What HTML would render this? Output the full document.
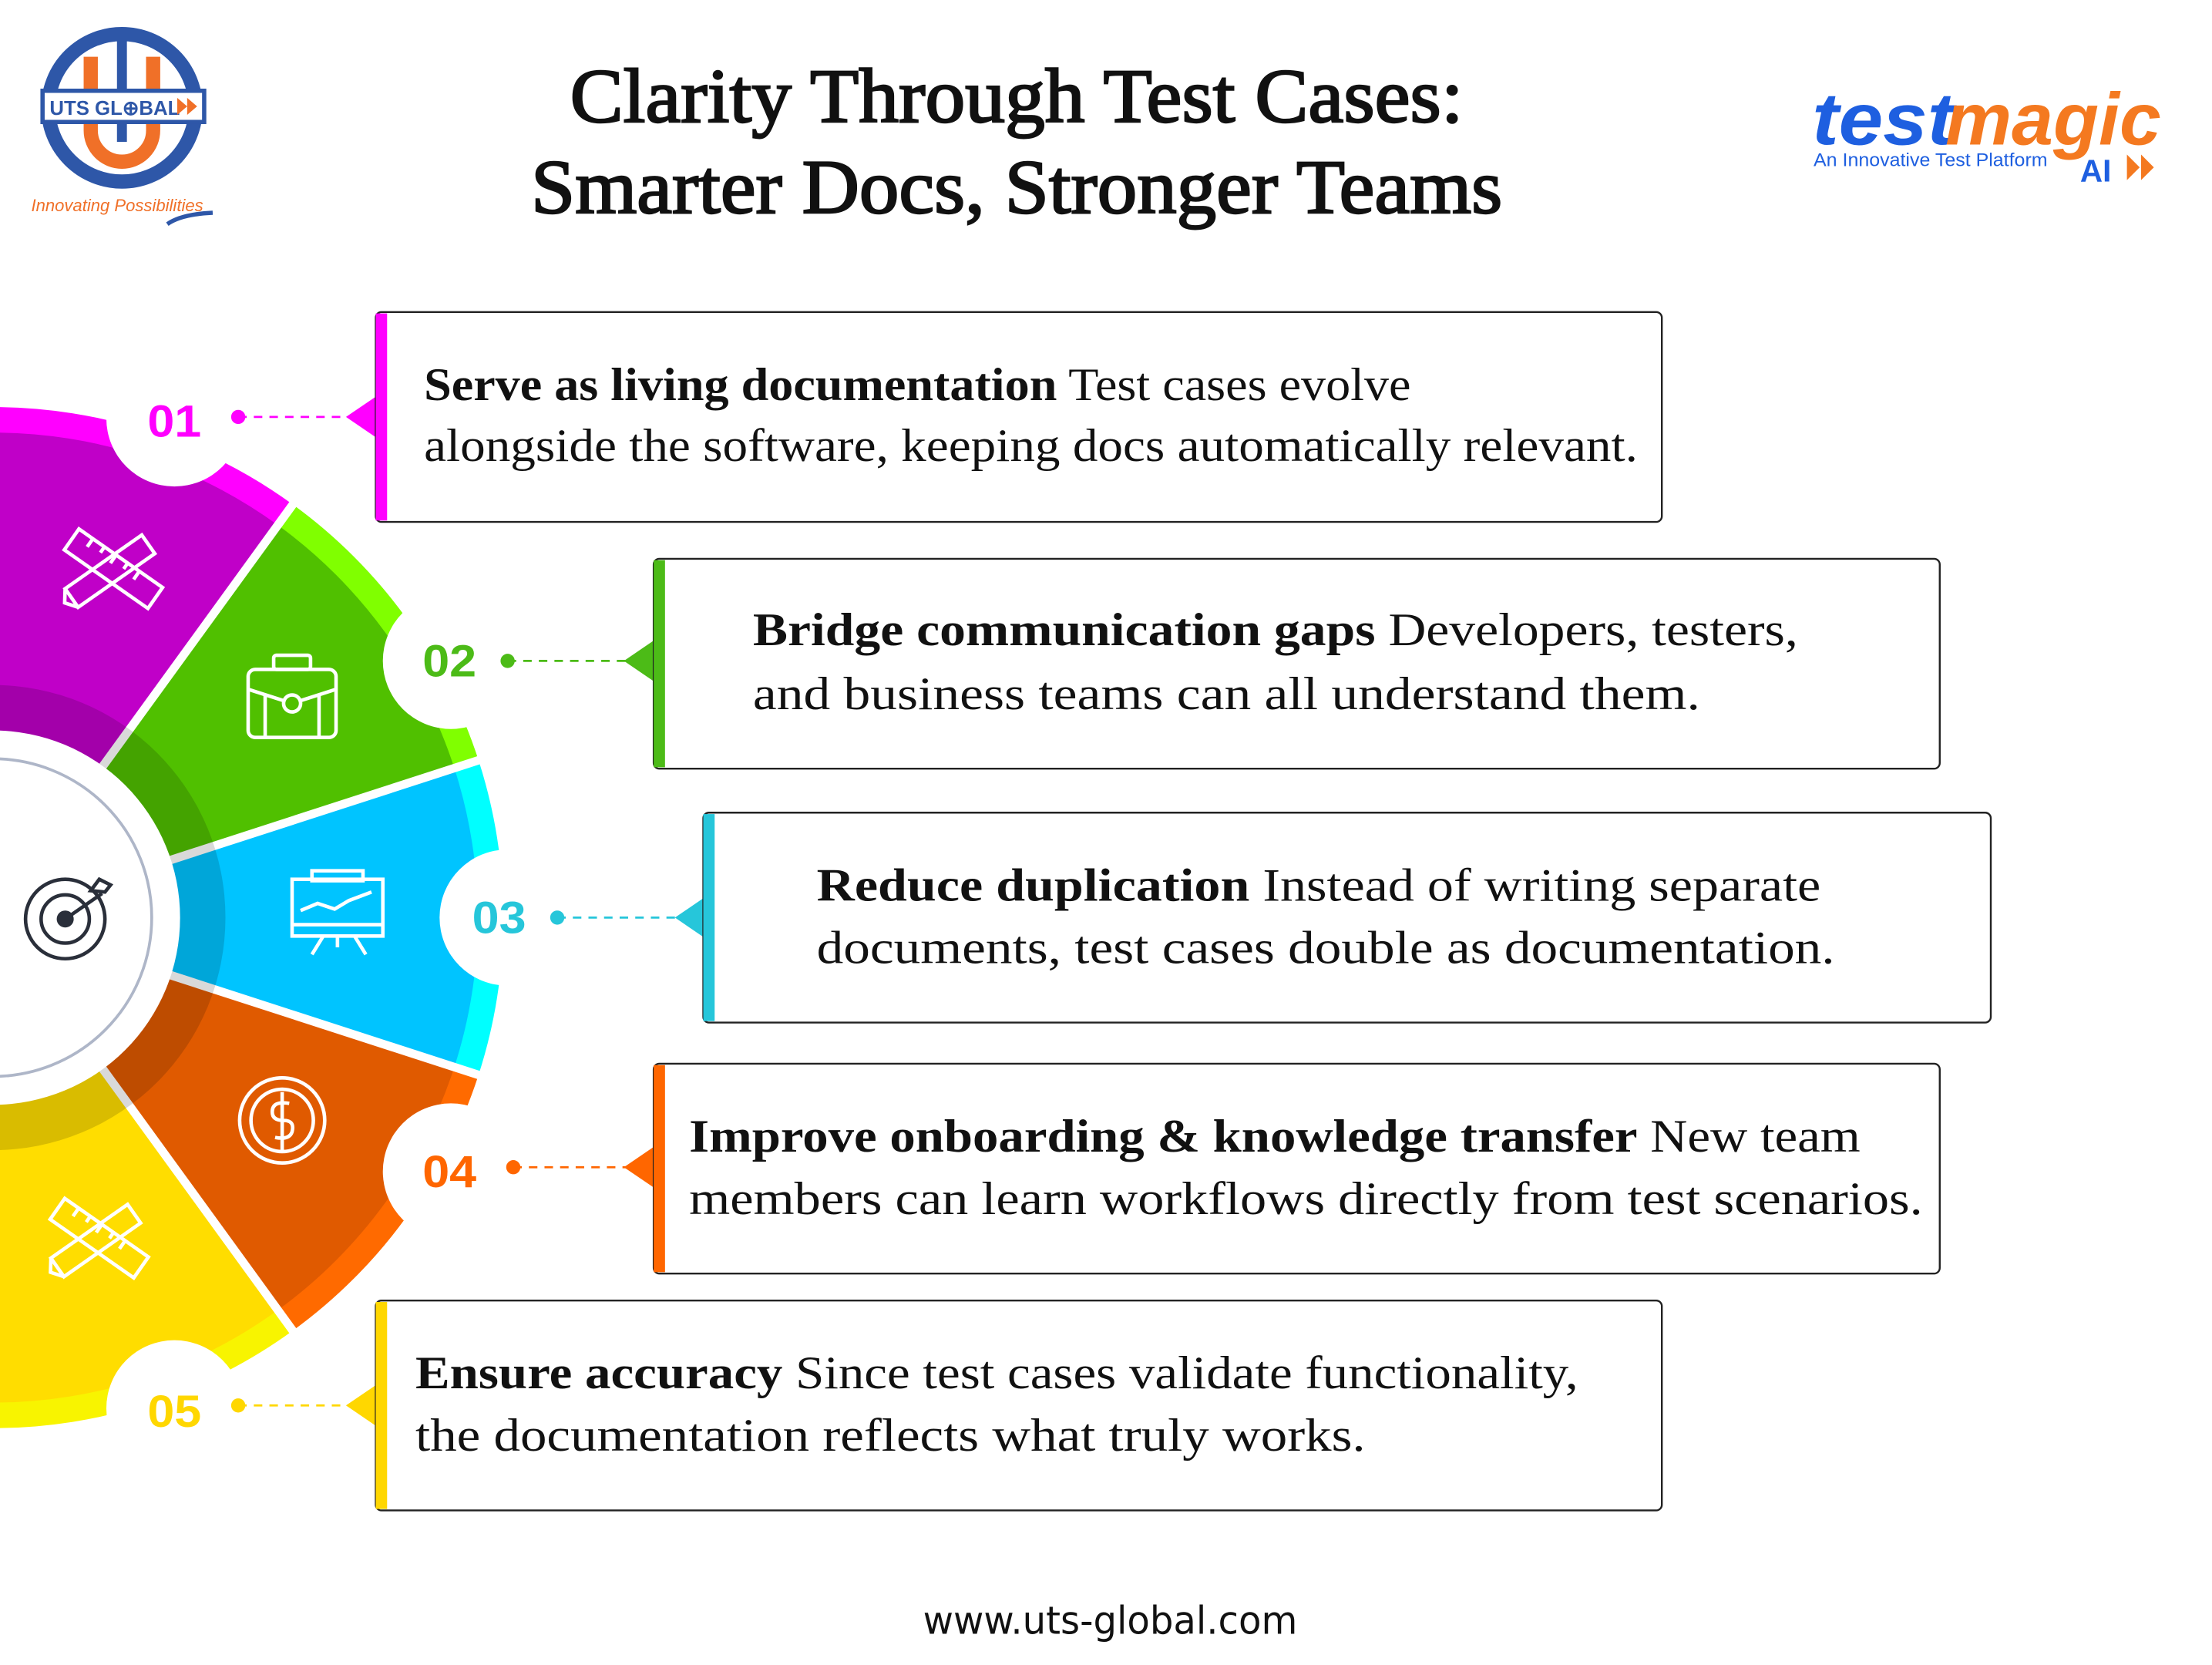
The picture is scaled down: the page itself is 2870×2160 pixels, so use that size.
<!DOCTYPE html>
<html><head><meta charset="utf-8"><style>
html,body{margin:0;padding:0;background:#fff;width:2870px;height:2160px;overflow:hidden}
svg{display:block}
</style></head><body>
<svg width="2870" height="2160" viewBox="0 0 1560 1174" preserveAspectRatio="none" xmlns="http://www.w3.org/2000/svg">
<rect width="1560" height="1174" fill="#fff"/>
<!-- Title -->
<g font-family="Liberation Serif, serif" fill="#111" text-anchor="middle" stroke="#111" stroke-width="1.3">
<text x="717" y="86" font-size="54" textLength="630" lengthAdjust="spacingAndGlyphs">Clarity Through Test Cases:</text>
<text x="717" y="150" font-size="54" textLength="685" lengthAdjust="spacingAndGlyphs">Smarter Docs, Stronger Teams</text>
</g>
<!-- UTS logo -->
<g>
<circle cx="86" cy="76" r="52" fill="none" stroke="#2E57A8" stroke-width="10"/>
<path d="M64 40 V92 A22 22 0 0 0 108 92 V40" fill="none" stroke="#F07028" stroke-width="10"/>
<path d="M86 28 V100" stroke="#2E57A8" stroke-width="7"/>
<rect x="30" y="64" width="114" height="22" fill="#fff" stroke="#2E57A8" stroke-width="3"/>
<text x="35" y="81" font-family="Liberation Sans, sans-serif" font-weight="bold" font-size="14" fill="#2E57A8">UTS GL⊕BAL</text>
<path d="M125 69 l7 6 -7 6z M132 69 l7 6 -7 6z" fill="#F07028"/>
<text x="22" y="149" font-family="Liberation Sans, sans-serif" font-style="italic" font-size="12" fill="#F07028">Innovating Possibilities</text>
<path d="M118 158 Q128 151 150 150" stroke="#2E57A8" stroke-width="3" fill="none"/>
</g>
<!-- testmagic logo -->
<g font-family="Liberation Sans, sans-serif" font-weight="bold" font-style="italic">
<text x="1278" y="102" font-size="52" fill="#1E5FE0" textLength="100" lengthAdjust="spacingAndGlyphs">test</text>
<text x="1372" y="102" font-size="52" fill="#F47920" textLength="152" lengthAdjust="spacingAndGlyphs">magic</text>
<text x="1279" y="117" font-size="13" font-weight="normal" font-style="normal" fill="#1E5FE0" textLength="165" lengthAdjust="spacingAndGlyphs">An Innovative Test Platform</text>
<text x="1467" y="128" font-size="22" font-style="normal" fill="#1E5FE0">AI</text>
<path d="M1500 109 l9 9 -9 9z M1510 109 l9 9 -9 9z" fill="#F47920"/>
</g>
<!-- Wheel -->
<g>
<path d="M-5 647 L-5 287 A360 360 0 0 1 206.6 355.8 Z" fill="#FF00FF"/>
<path d="M-5 647 L206.6 355.8 A360 360 0 0 1 337.4 535.8 Z" fill="#80FF00"/>
<path d="M-5 647 L337.4 535.8 A360 360 0 0 1 337.4 758.2 Z" fill="#00FFFF"/>
<path d="M-5 647 L337.4 758.2 A360 360 0 0 1 206.6 938.2 Z" fill="#FF6A00"/>
<path d="M-5 647 L206.6 938.2 A360 360 0 0 1 -5 1007 Z" fill="#F8F400"/>
<path d="M-5 647 L-5 305 A342 342 0 0 1 196 370.3 Z" fill="#C000C8"/>
<path d="M-5 647 L196 370.3 A342 342 0 0 1 320.3 541.3 Z" fill="#50C000"/>
<path d="M-5 647 L320.3 541.3 A342 342 0 0 1 320.3 752.7 Z" fill="#00C4FF"/>
<path d="M-5 647 L320.3 752.7 A342 342 0 0 1 196 923.7 Z" fill="#E05A00"/>
<path d="M-5 647 L196 923.7 A342 342 0 0 1 -5 989 Z" fill="#FFDD00"/>
<g stroke="#fff" stroke-width="6">
<line x1="-5" y1="647" x2="215" y2="344"/>
<line x1="-5" y1="647" x2="350" y2="532"/>
<line x1="-5" y1="647" x2="350" y2="762"/>
<line x1="-5" y1="647" x2="215" y2="950"/>
</g>
<circle cx="-5" cy="647" r="164" fill="#000" fill-opacity="0.15"/>
<circle cx="-5" cy="647" r="132" fill="#fff"/>
<circle cx="-5" cy="647" r="112" fill="none" stroke="#AEB6C8" stroke-width="2"/>
<!-- target icon -->
<g fill="none" stroke="#2A2F3A" stroke-width="2.5">
<circle cx="46" cy="648" r="28"/><circle cx="46" cy="648" r="17"/>
<line x1="46" y1="648" x2="72" y2="630"/>
<path d="M64 628 l6 -8 8 4 -4 5 z"/>
</g>
<circle cx="46" cy="648" r="6" fill="#2A2F3A"/>
<!-- number circles -->
<g fill="#fff">
<circle cx="123" cy="295" r="48"/><circle cx="318" cy="466" r="48"/><circle cx="358" cy="647" r="48"/><circle cx="318" cy="826" r="48"/><circle cx="123" cy="993" r="48"/>
</g>
<g font-family="Liberation Sans, sans-serif" font-weight="bold" font-size="32" text-anchor="middle">
<text x="123" y="308" fill="#FF00FF" textLength="38" lengthAdjust="spacingAndGlyphs">01</text>
<text x="317" y="477" fill="#4CBB17" textLength="38" lengthAdjust="spacingAndGlyphs">02</text>
<text x="352" y="658" fill="#26C6DA" textLength="38" lengthAdjust="spacingAndGlyphs">03</text>
<text x="317" y="837" fill="#FF6600" textLength="38" lengthAdjust="spacingAndGlyphs">04</text>
<text x="123" y="1006" fill="#FFD700" textLength="38" lengthAdjust="spacingAndGlyphs">05</text>
</g>
<!-- icons -->
<g fill="none" stroke="#fff" stroke-width="2.5">
<g transform="translate(80,401)">
<g transform="rotate(35)"><rect x="-36" y="-9" width="72" height="18"/><path d="M-24 -9 v7 M-14 -9 v5 M-4 -9 v7 M6 -9 v5 M16 -9 v7"/></g>
<g transform="rotate(-35)"><path d="M-36 -8 H30 V8 H-36 Z M-36 -8 l-6 8 6 8"/></g>
</g>
<g transform="translate(70,873)">
<g transform="rotate(35)"><rect x="-36" y="-9" width="72" height="18"/><path d="M-24 -9 v7 M-14 -9 v5 M-4 -9 v7 M6 -9 v5 M16 -9 v7"/></g>
<g transform="rotate(-35)"><path d="M-36 -8 H30 V8 H-36 Z M-36 -8 l-6 8 6 8"/></g>
</g>
<rect x="175" y="472" width="62" height="48" rx="5"/><rect x="193" y="462" width="26" height="10" rx="2"/>
<path d="M175 486 L200 494 M212 494 L237 486 M187 490 V520 M225 490 V520"/><circle cx="206" cy="496" r="6"/>
<rect x="206" y="620" width="64" height="40"/><rect x="220" y="614" width="36" height="7"/>
<path d="M212 642 l12 -5 12 4 10 -6 16 -6 M206 652 H270 M228 660 l-8 13 M250 660 l8 13 M238 660 v8"/>
<circle cx="199" cy="790" r="30"/><circle cx="199" cy="790" r="22"/>
<path d="M204 778 q-12 -2 -12 6 q0 6 8 6 q8 0 6 8 q-2 6 -12 4 M199 770 V812"/>
</g>
</g>
<!-- connectors -->
<g stroke-width="1.5" stroke-dasharray="6,5">
<line x1="168" y1="294" x2="246" y2="294" stroke="#FF00FF"/>
<line x1="358" y1="466" x2="442" y2="466" stroke="#4CBB17"/>
<line x1="393" y1="647" x2="478" y2="647" stroke="#26C6DA"/>
<line x1="362" y1="823" x2="442" y2="823" stroke="#FF6600"/>
<line x1="168" y1="991" x2="246" y2="991" stroke="#FFD700"/>
</g>
<circle cx="168" cy="294" r="5" fill="#FF00FF"/><circle cx="358" cy="466" r="5" fill="#4CBB17"/><circle cx="393" cy="647" r="5" fill="#26C6DA"/><circle cx="362" cy="823" r="5" fill="#FF6600"/><circle cx="168" cy="991" r="5" fill="#FFD700"/>
<path d="M244 294 L266 279 V309 Z" fill="#FF00FF"/>
<path d="M440 466 L462 451 V481 Z" fill="#4CBB17"/>
<path d="M476 647 L498 632 V662 Z" fill="#26C6DA"/>
<path d="M440 823 L462 808 V838 Z" fill="#FF6600"/>
<path d="M244 991 L266 976 V1006 Z" fill="#FFD700"/>
<!-- boxes -->
<g fill="#fff" stroke="#222" stroke-width="1.3">
<rect x="265" y="220" width="907" height="148" rx="4"/>
<rect x="461" y="394" width="907" height="148" rx="4"/>
<rect x="496" y="573" width="908" height="148" rx="4"/>
<rect x="461" y="750" width="907" height="148" rx="4"/>
<rect x="265" y="917" width="907" height="148" rx="4"/>
</g>
<rect x="265" y="221" width="8" height="146" fill="#FF00FF"/>
<rect x="461" y="395" width="8" height="146" fill="#4CBB17"/>
<rect x="496" y="574" width="8" height="146" fill="#26C6DA"/>
<rect x="461" y="751" width="8" height="146" fill="#FF6600"/>
<rect x="265" y="918" width="8" height="146" fill="#FFD700"/>
<g font-family="Liberation Serif, serif" font-size="33" fill="#111">
<text x="299" y="282" textLength="696" lengthAdjust="spacingAndGlyphs"><tspan font-weight="bold">Serve as living documentation</tspan> Test cases evolve</text>
<text x="299" y="325" textLength="856" lengthAdjust="spacingAndGlyphs">alongside the software, keeping docs automatically relevant.</text>
<text x="531" y="455" textLength="737" lengthAdjust="spacingAndGlyphs"><tspan font-weight="bold">Bridge communication gaps</tspan> Developers, testers,</text>
<text x="531" y="500" textLength="668" lengthAdjust="spacingAndGlyphs">and business teams can all understand them.</text>
<text x="576" y="635" textLength="708" lengthAdjust="spacingAndGlyphs"><tspan font-weight="bold">Reduce duplication</tspan> Instead of writing separate</text>
<text x="576" y="679" textLength="718" lengthAdjust="spacingAndGlyphs">documents, test cases double as documentation.</text>
<text x="486" y="812" textLength="826" lengthAdjust="spacingAndGlyphs"><tspan font-weight="bold">Improve onboarding &amp; knowledge transfer</tspan> New team</text>
<text x="486" y="856" textLength="870" lengthAdjust="spacingAndGlyphs">members can learn workflows directly from test scenarios.</text>
<text x="293" y="979" textLength="820" lengthAdjust="spacingAndGlyphs"><tspan font-weight="bold">Ensure accuracy</tspan> Since test cases validate functionality,</text>
<text x="293" y="1023" textLength="670" lengthAdjust="spacingAndGlyphs">the documentation reflects what truly works.</text>
</g>
<text x="783" y="1152" text-anchor="middle" font-family="DejaVu Sans, sans-serif" font-size="27" fill="#111" textLength="264" lengthAdjust="spacingAndGlyphs">www.uts-global.com</text>
</svg>
</body></html>
